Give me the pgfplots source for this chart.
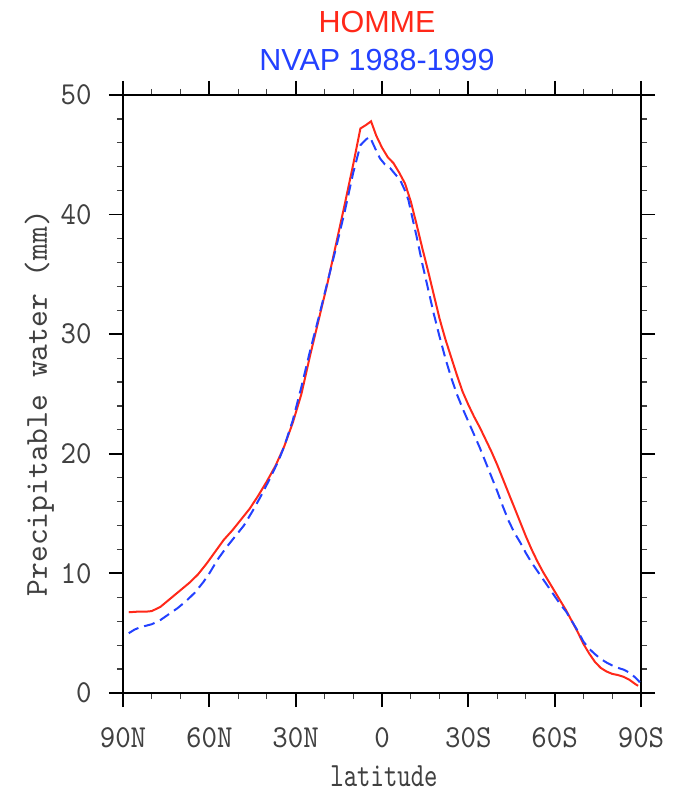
\documentclass[border=0pt]{standalone}
\usepackage{fontspec}
\usepackage{pgfplots}
\pgfplotsset{compat=1.18}
\newfontfamily\titlefont{Liberation Sans}
\newfontfamily\tickfont[FakeStretch=0.92]{lmmono10-regular.otf}
\newfontfamily\xlabfont[FakeStretch=0.75]{lmmono10-regular.otf}
\newfontfamily\ylabfont{lmmono10-regular.otf}
\definecolor{hred}{RGB}{255,40,25}
\definecolor{nblue}{RGB}{35,65,255}
\definecolor{lgray}{RGB}{64,64,64}
\begin{document}
\begin{tikzpicture}
\begin{axis}[
  scale only axis, width=518pt, height=598pt,
  xmin=-90, xmax=90, x dir=reverse, ymin=0, ymax=50,
  xtick={90,60,30,0,-30,-60,-90},
  xticklabels={90N,60N,30N,0,30S,60S,90S},
  minor xtick={80,70,50,40,20,10,-10,-20,-40,-50,-70,-80},
  ytick={0,10,20,30,40,50},
  yticklabels={0,10,20,30,40,50},
  minor ytick={2,4,6,8,12,14,16,18,22,24,26,28,32,34,36,38,42,44,46,48},
  tick align=outside,
  major tick length=14pt, minor tick length=6pt,
  axis line style={line width=1.8pt, black},
  every major tick/.style={line width=1.8pt, black},
  every minor tick/.style={line width=1.2pt, black!75},
  xticklabel style={font={\fontsize{32}{34}\tickfont}, text=lgray, anchor=base, yshift=-40pt},
  yticklabel style={font={\fontsize{32}{34}\tickfont}, text=lgray, anchor=east, xshift=-14pt},
  clip=false,
]
\addplot[hred, line width=2pt] coordinates {
(88,6.75) (85,6.8) (82,6.8) (80,6.85) (77,7.2) (74,7.8) (70,8.6) (67,9.2) (64,9.9)
(61,10.8) (58,11.8) (55,12.8) (52,13.6) (49,14.5) (46,15.4) (43,16.5) (40,17.7)
(37,19.0) (34,20.6) (31,22.6) (28,25.0) (25,28.2) (22,31.2) (19,34.2) (16,37.5)
(13,40.8) (10,44.2) (7.5,47.2) (5.5,47.5) (3.8,47.8) (2,46.6) (0,45.6) (-2,44.8)
(-4,44.3) (-6,43.5) (-8,42.6) (-10,41.1) (-12,39.2) (-14,37.2) (-16,35.3)
(-18,33.3) (-20,31.3) (-22,29.6) (-24,28.1) (-26,26.6) (-28,25.2) (-30,24.1)
(-32,23.1) (-34,22.2) (-36,21.2) (-38,20.2) (-40,19.1) (-42,17.9) (-44,16.7)
(-46,15.5) (-48,14.3) (-50,13.1) (-52,12.0) (-54,11.0) (-56,10.1) (-58,9.3)
(-60,8.5) (-62,7.7) (-64,6.9) (-66,6.0) (-68,5.1) (-70,4.1) (-72,3.3) (-74,2.6)
(-76,2.1) (-78,1.8) (-80,1.6) (-82,1.5) (-84,1.35) (-86,1.1) (-88,0.75) (-89,0.6)
};
\addplot[nblue, line width=2pt, dash pattern=on 11pt off 6pt] coordinates {
(88,5.0) (86,5.3) (84,5.5) (80,5.75) (77,6.1) (74,6.6) (71,7.1) (68,7.7) (65,8.4)
(62,9.3) (60,10.0) (57,11.2) (54,12.2) (51,13.1) (48,14.0) (45,15.2) (42,16.5)
(39,17.9) (36,19.4) (34,20.6) (31,22.8) (28,25.6) (25,28.6) (22,31.4) (19,34.3)
(16,37.2) (13,40.2) (10,43.5) (7.5,45.8) (5.5,46.3) (4.2,46.5) (2.5,45.6)
(0.7,44.7) (-1,44.2) (-2.8,43.9) (-4.5,43.4) (-6.3,42.9) (-8,42.0) (-9.2,41.2)
(-10.3,40.0) (-12,38.2) (-14,35.9) (-16,33.8) (-18,31.7) (-20,29.8) (-22,28.0)
(-24,26.4) (-26,25.0) (-28,23.8) (-30,22.7) (-32,21.6) (-34,20.5) (-36,19.3)
(-38,18.1) (-40,16.9) (-42,15.6) (-44,14.4) (-46,13.4) (-48,12.6) (-50,11.7)
(-52,10.9) (-54,10.2) (-56,9.5) (-58,8.8) (-60,8.1) (-62,7.4) (-64,6.8) (-66,6.0)
(-68,5.2) (-70,4.3) (-72,3.7) (-74,3.25) (-76,2.85) (-78,2.55) (-80,2.3) (-82,2.1)
(-84,1.95) (-86,1.7) (-88,1.3) (-89.6,0.9)
};
\end{axis}
\node[anchor=base, text=hred, font={\fontsize{30.5}{32}\titlefont}] at ([xshift=-5pt,yshift=62pt]current axis.north) {HOMME};
\node[anchor=base, text=nblue, font={\fontsize{30.5}{32}\titlefont}] at ([xshift=-5pt,yshift=24pt]current axis.north) {NVAP 1988-1999};
\node[anchor=base, text=lgray, font={\fontsize{34}{36}\xlabfont}] at ([xshift=2pt,yshift=-93.5pt]current axis.south) {latitude};
\node[anchor=base, rotate=90, text=lgray, font={\fontsize{32}{34}\ylabfont}] at ([xshift=-76pt,yshift=-9pt]current axis.west) {Precipitable water (mm)};
\pgfresetboundingbox
\path ([xshift=-123pt,yshift=-100pt]current axis.south west) rectangle ([xshift=37pt,yshift=95pt]current axis.north east);
\end{tikzpicture}
\end{document}
